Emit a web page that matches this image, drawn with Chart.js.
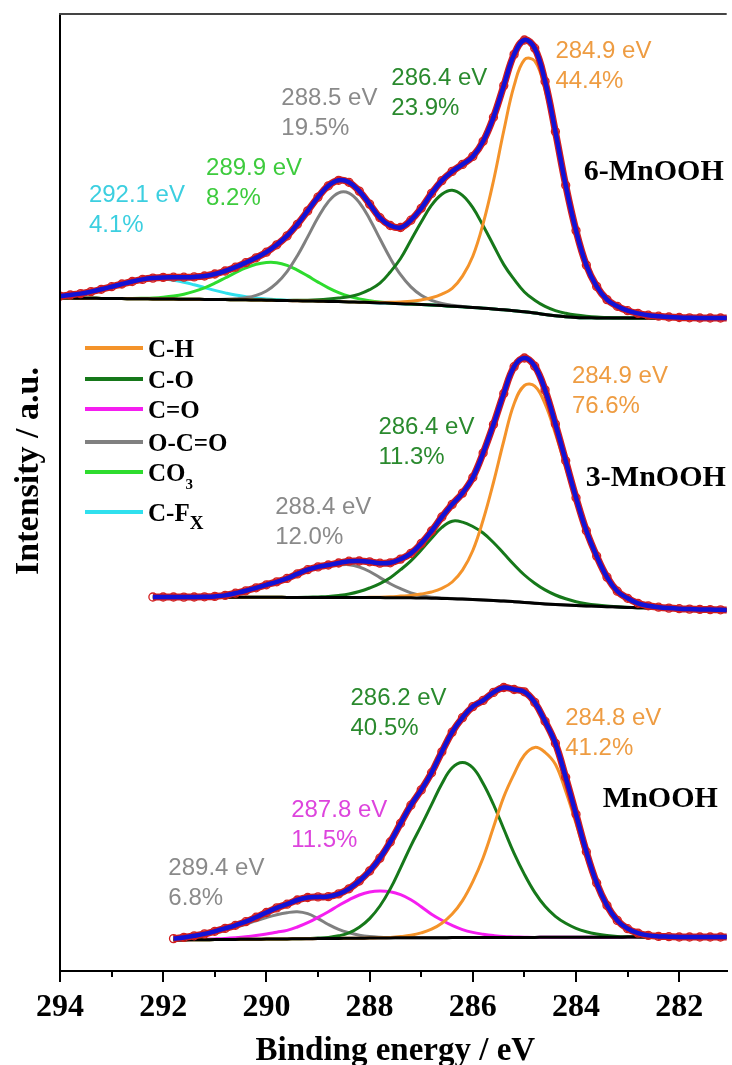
<!DOCTYPE html>
<html lang="en">
<head>
<meta charset="UTF-8">
<title>C 1s spectra</title>
<script src="https://cdn.jsdelivr.net/npm/chart.js@4.4.1/dist/chart.umd.min.js"></script>
<style>
  html, body { margin: 0; padding: 0; background: #fff; }
</style>
</head>
<body>
<canvas id="chart" width="732" height="1065"></canvas>
<script>
// binding energy grid (eV), shared by the three spectra
const energy = [
  294.0, 293.8, 293.6, 293.4, 293.2, 293.0, 292.8, 292.6, 292.4, 292.2,
  292.0, 291.8, 291.6, 291.4, 291.2, 291.0, 290.8, 290.6, 290.4, 290.2,
  290.0, 289.8, 289.6, 289.4, 289.2, 289.0, 288.8, 288.6, 288.4, 288.2,
  288.0, 287.8, 287.6, 287.4, 287.2, 287.0, 286.8, 286.6, 286.4, 286.2,
  286.0, 285.8, 285.6, 285.4, 285.2, 285.0, 284.8, 284.6, 284.4, 284.2,
  284.0, 283.8, 283.6, 283.4, 283.2, 283.0, 282.8, 282.6, 282.4, 282.2,
  282.0, 281.8, 281.6, 281.4, 281.2, 281.0
];
const xTicks = [294, 292, 290, 288, 286, 284, 282];
const xMinorTicks = [293, 291, 289, 287, 285, 283];

// 6-MnOOH : Shirley background and fitted components (a.u., above background)
const topBase = [
  0, -0.01, -0.02, -0.03, -0.04, -0.05, -0.06, -0.07, -0.08, -0.09,
  -0.1, -0.11, -0.12, -0.13, -0.14, -0.15, -0.16, -0.17, -0.18, -0.2,
  -0.22, -0.24, -0.26, -0.28, -0.3, -0.32, -0.34, -0.36, -0.39, -0.42,
  -0.45, -0.49, -0.53, -0.57, -0.61, -0.65, -0.7, -0.76, -0.82, -0.88,
  -0.95, -1.02, -1.1, -1.18, -1.27, -1.37, -1.5, -1.65, -1.78, -1.88,
  -1.94, -1.97, -1.99, -2, -2, -2, -2, -2, -2, -2,
  -2, -2, -2, -2, -2, -2
];
const topCH = [
  0, 0, 0, 0, 0, 0, 0, 0, 0, 0,
  0, 0, 0, 0, 0, 0, 0, 0, 0, 0,
  0, 0, 0, 0, 0, 0, 0, 0, 0, 0,
  0.02, 0.05, 0.1, 0.18, 0.28, 0.46, 0.72, 1.15, 1.79, 3.07,
  5.12, 8.45, 12.8, 17.9, 22.5, 25.2, 25.2, 22.5, 17.9, 12.8,
  8.45, 5.12, 3.07, 1.79, 1.15, 0.72, 0.46, 0.28, 0.18, 0.1,
  0.05, 0.02, 0, 0, 0, 0
];
const topCO = [
  0, 0, 0, 0, 0, 0, 0, 0, 0, 0,
  0, 0, 0, 0, 0, 0, 0, 0, 0, 0,
  0, 0.01, 0.02, 0.05, 0.08, 0.14, 0.23, 0.35, 0.52, 0.81,
  1.28, 1.97, 3.13, 4.52, 6.38, 8.24, 9.98, 11.14, 11.6, 11.14,
  9.98, 8.24, 6.38, 4.52, 3.13, 1.97, 1.28, 0.81, 0.52, 0.35,
  0.23, 0.14, 0.08, 0.05, 0.02, 0.01, 0, 0, 0, 0,
  0, 0, 0, 0, 0, 0
];
const topOCO = [
  0, 0, 0, 0, 0, 0, 0, 0, 0, 0,
  0, 0, 0, 0, 0, 0.01, 0.03, 0.09, 0.21, 0.46,
  0.92, 1.72, 2.9, 4.51, 6.41, 8.36, 9.97, 10.88, 10.88, 9.97,
  8.36, 6.41, 4.51, 2.9, 1.72, 0.92, 0.46, 0.21, 0.09, 0.03,
  0.01, 0, 0, 0, 0, 0, 0, 0, 0, 0,
  0, 0, 0, 0, 0, 0, 0, 0, 0, 0,
  0, 0, 0, 0, 0, 0
];
const topCO3 = [
  0, 0, 0, 0, 0, 0, 0.01, 0.02, 0.05, 0.09,
  0.17, 0.3, 0.5, 0.79, 1.16, 1.63, 2.16, 2.7, 3.19, 3.57,
  3.77, 3.77, 3.52, 3.07, 2.51, 1.91, 1.36, 0.9, 0.56, 0.33,
  0.18, 0.09, 0.04, 0.02, 0.01, 0, 0, 0, 0, 0,
  0, 0, 0, 0, 0, 0, 0, 0, 0, 0,
  0, 0, 0, 0, 0, 0, 0, 0, 0, 0,
  0, 0, 0, 0, 0, 0
];
const topCFx = [
  0.19, 0.31, 0.46, 0.67, 0.91, 1.18, 1.45, 1.7, 1.89, 1.99,
  1.99, 1.89, 1.7, 1.45, 1.18, 0.91, 0.67, 0.46, 0.31, 0.19,
  0.11, 0.06, 0.03, 0.02, 0.01, 0, 0, 0, 0, 0,
  0, 0, 0, 0, 0, 0, 0, 0, 0, 0,
  0, 0, 0, 0, 0, 0, 0, 0, 0, 0,
  0, 0, 0, 0, 0, 0, 0, 0, 0, 0,
  0, 0, 0, 0, 0, 0
];

// 3-MnOOH
const midBase = [
  null, null, null, null, null, null, null, null, null, 0,
  0, 0, -0.01, -0.01, -0.01, -0.02, -0.02, -0.02, -0.03, -0.03,
  -0.03, -0.03, -0.04, -0.04, -0.04, -0.04, -0.05, -0.05, -0.05, -0.05,
  -0.05, -0.06, -0.07, -0.07, -0.08, -0.1, -0.12, -0.14, -0.17, -0.21,
  -0.25, -0.3, -0.35, -0.4, -0.47, -0.55, -0.62, -0.69, -0.75, -0.8,
  -0.85, -0.89, -0.93, -0.97, -1, -1.04, -1.07, -1.1, -1.13, -1.16,
  -1.19, -1.21, -1.24, -1.26, -1.28, -1.3
];
const midCH = [
  null, null, null, null, null, null, null, null, null, 0,
  0, 0, 0, 0, 0, 0, 0, 0, 0, 0,
  0, 0, 0, 0, 0, 0, 0, 0, 0, 0,
  0.02, 0.04, 0.09, 0.16, 0.24, 0.4, 0.62, 1, 1.67, 2.9,
  4.9, 8, 11.8, 16, 19.8, 21.7, 21.7, 20, 17.1, 13.8,
  10.4, 7.3, 4.9, 2.9, 1.55, 0.9, 0.44, 0.22, 0.11, 0.05,
  0.02, 0, 0, 0, 0, 0
];
const midCO = [
  null, null, null, null, null, null, null, null, null, 0,
  0, 0, 0, 0, 0, 0, 0, 0, 0, 0,
  0, 0, 0, 0, 0.02, 0.05, 0.1, 0.2, 0.35, 0.6,
  0.95, 1.4, 2, 2.8, 3.7, 4.8, 6, 7.1, 7.75, 7.7,
  7.3, 6.7, 5.8, 4.75, 3.7, 2.75, 2, 1.4, 0.95, 0.62,
  0.38, 0.22, 0.12, 0.06, 0.03, 0.01, 0, 0, 0, 0,
  0, 0, 0, 0, 0, 0
];
const midOCO = [
  null, null, null, null, null, null, null, null, null, 0,
  0, 0, 0, 0.01, 0.03, 0.08, 0.18, 0.4, 0.65, 0.95,
  1.25, 1.55, 1.9, 2.35, 2.75, 3, 3.15, 3.25, 3.28, 3.05,
  2.6, 2, 1.4, 0.9, 0.5, 0.25, 0.1, 0.04, 0.01, 0,
  0, 0, 0, 0, 0, 0, 0, 0, 0, 0,
  0, 0, 0, 0, 0, 0, 0, 0, 0, 0,
  0, 0, 0, 0, 0, 0
];

// MnOOH
const botBase = [
  null, null, null, null, null, null, null, null, null, null,
  null, 0, 0.01, 0.02, 0.03, 0.04, 0.05, 0.06, 0.07, 0.08,
  0.09, 0.1, 0.11, 0.12, 0.13, 0.14, 0.15, 0.16, 0.17, 0.18,
  0.19, 0.2, 0.21, 0.22, 0.22, 0.23, 0.23, 0.23, 0.24, 0.24,
  0.24, 0.25, 0.25, 0.25, 0.26, 0.26, 0.26, 0.27, 0.27, 0.27,
  0.27, 0.28, 0.28, 0.28, 0.28, 0.29, 0.29, 0.29, 0.29, 0.3,
  0.3, 0.3, 0.3, 0.3, 0.3, 0.3
];
const botCH = [
  null, null, null, null, null, null, null, null, null, null,
  null, 0, 0, 0, 0, 0, 0, 0, 0, 0,
  0, 0, 0, 0, 0, 0, 0, 0, 0, 0,
  0, 0.02, 0.05, 0.12, 0.25, 0.48, 0.85, 1.45, 2.35, 3.7,
  5.6, 7.98, 11.02, 14.06, 16.34, 18.24, 19, 18.5, 17.3, 14.6,
  11.4, 8, 5.1, 3, 1.6, 0.8, 0.38, 0.17, 0.07, 0.03,
  0, 0, 0, 0, 0, 0
];
const botCO = [
  null, null, null, null, null, null, null, null, null, null,
  null, 0, 0, 0, 0, 0, 0, 0, 0, 0,
  0, 0, 0, 0, 0.02, 0.05, 0.11, 0.26, 0.55, 1.1,
  1.95, 3.2, 4.9, 7, 9.2, 11.2, 13.3, 15.4, 16.98, 17.5,
  16.98, 15.4, 13.3, 10.85, 8.4, 6.3, 4.5, 3.1, 2.1, 1.4,
  0.9, 0.55, 0.32, 0.17, 0.08, 0.04, 0.02, 0, 0, 0,
  0, 0, 0, 0, 0, 0
];
const botCeqO = [
  null, null, null, null, null, null, null, null, null, null,
  null, 0, 0.01, 0.02, 0.04, 0.07, 0.11, 0.17, 0.25, 0.36,
  0.5, 0.68, 0.85, 1.18, 1.6, 2.12, 2.68, 3.29, 3.85, 4.32,
  4.61, 4.7, 4.61, 4.32, 3.81, 3.1, 2.35, 1.74, 1.22, 0.8,
  0.52, 0.33, 0.19, 0.09, 0.05, 0.02, 0, 0, 0, 0,
  0, 0, 0, 0, 0, 0, 0, 0, 0, 0,
  0, 0, 0, 0, 0, 0
];
const botOCO = [
  null, null, null, null, null, null, null, null, null, null,
  null, 0.14, 0.24, 0.38, 0.54, 0.76, 1, 1.24, 1.51, 1.84,
  2.16, 2.43, 2.62, 2.7, 2.5, 2, 1.4, 0.9, 0.55, 0.3,
  0.15, 0.07, 0.03, 0.01, 0, 0, 0, 0, 0, 0,
  0, 0, 0, 0, 0, 0, 0, 0, 0, 0,
  0, 0, 0, 0, 0, 0, 0, 0, 0, 0,
  0, 0, 0, 0, 0, 0
];

const colors = {
  'C-H': '#F4932A',
  'C-O': '#16781A',
  'C=O': '#F51EF0',
  'O-C=O': '#808080',
  'CO3': '#2EDC2E',
  'C-Fx': '#30E0EE'
};
const fitColor = '#1212D6';
const dataColor = '#D21E1E';

// each spectrum is lifted by its own offset so the three stack
const panels = [
  { lift: 67.3, base: topBase, parts: [['C-H', topCH], ['C-O', topCO], ['O-C=O', topOCO], ['CO3', topCO3], ['C-Fx', topCFx]] },
  { lift: 37.4, base: midBase, parts: [['C-H', midCH], ['C-O', midCO], ['O-C=O', midOCO]] },
  { lift: 3.1, base: botBase, parts: [['C-H', botCH], ['C-O', botCO], ['C=O', botCeqO], ['O-C=O', botOCO]] }
];

function points(p, extra) {
  return energy.map((e, i) => ({
    x: e,
    y: p.base[i] === null ? null : p.lift + p.base[i] + extra(i)
  }));
}

const datasets = [];
panels.forEach(p => {
  const total = i => p.parts.reduce((s, part) => s + part[1][i], 0);
  const fit = points(p, total);
  datasets.push({ data: fit, borderColor: fitColor, borderWidth: 4.5, order: 1 });
  datasets.push({
    data: fit, borderColor: dataColor, borderWidth: 7, order: 2,
    pointRadius: 4, pointBorderWidth: 1.3, pointBorderColor: dataColor,
    pointBackgroundColor: 'rgba(0,0,0,0)'
  });
  datasets.push({ data: points(p, () => 0), borderColor: '#000', borderWidth: 3, order: 3 });
  p.parts.forEach(([name, vals]) => {
    datasets.push({ data: points(p, i => vals[i]), borderColor: colors[name], borderWidth: 3, order: 4 });
  });
});

const peakLabels = [
  { lines: ['292.1 eV', '4.1%'], color: '#3CCFE0', e: 293.44, y: 76.9 },
  { lines: ['289.9 eV', '8.2%'], color: '#3DCB3D', e: 291.17, y: 79.6 },
  { lines: ['288.5 eV', '19.5%'], color: '#8A8A8A', e: 289.71, y: 86.6 },
  { lines: ['286.4 eV', '23.9%'], color: '#2A8A2E', e: 287.58, y: 88.6 },
  { lines: ['284.9 eV', '44.4%'], color: '#EE9C42', e: 284.40, y: 91.3 },
  { lines: ['284.9 eV', '76.6%'], color: '#EE9C42', e: 284.08, y: 58.8 },
  { lines: ['286.4 eV', '11.3%'], color: '#2A8A2E', e: 287.83, y: 53.7 },
  { lines: ['288.4 eV', '12.0%'], color: '#8A8A8A', e: 289.83, y: 45.7 },
  { lines: ['286.2 eV', '40.5%'], color: '#2A8A2E', e: 288.37, y: 26.6 },
  { lines: ['284.8 eV', '41.2%'], color: '#EE9C42', e: 284.21, y: 24.6 },
  { lines: ['287.8 eV', '11.5%'], color: '#DD44DD', e: 289.52, y: 15.4 },
  { lines: ['289.4 eV', '6.8%'], color: '#8A8A8A', e: 291.90, y: 9.6 }
];
const sampleNames = [
  { text: '6-MnOOH', e: 283.85, y: 79.1 },
  { text: '3-MnOOH', e: 283.81, y: 48.5 },
  { text: 'MnOOH', e: 283.48, y: 16.4 }
];
const legendRows = [
  { key: 'C-H', text: 'C-H' },
  { key: 'C-O', text: 'C-O' },
  { key: 'C=O', text: 'C=O' },
  { key: 'O-C=O', text: 'O-C=O' },
  { key: 'CO3', text: 'CO', sub: '3', subFont: 'bold 15px "Liberation Serif"' },
  { key: 'C-Fx', text: 'C-F', sub: 'X', subFont: 'bold 19px "Liberation Serif"' }
];
const legendRowY = [334, 365, 395, 428, 458, 498];

const decorations = {
  id: 'decorations',
  afterDraw(chart) {
    const { ctx, chartArea: a, scales } = chart;
    const x = scales.x, y = scales.y;
    ctx.save();

    // frame: left axis and top edge
    ctx.strokeStyle = '#000';
    ctx.lineWidth = 2;
    ctx.beginPath();
    ctx.moveTo(a.left, a.bottom);
    ctx.lineTo(a.left, a.top);
    ctx.stroke();
    ctx.strokeStyle = '#444';
    ctx.beginPath();
    ctx.moveTo(a.left - 1, a.top);
    ctx.lineTo(a.right, a.top);
    ctx.stroke();

    // minor ticks on the energy axis
    ctx.strokeStyle = '#000';
    xMinorTicks.forEach(v => {
      const px = Math.round(x.getPixelForValue(v));
      ctx.beginPath();
      ctx.moveTo(px, a.bottom);
      ctx.lineTo(px, a.bottom + 6);
      ctx.stroke();
    });

    // axis titles
    ctx.fillStyle = '#000';
    ctx.font = 'bold 33px "Liberation Serif"';
    ctx.textAlign = 'center';
    ctx.textBaseline = 'alphabetic';
    ctx.fillText('Binding energy / eV', (a.left + a.right) / 2 + 2, 1060);
    ctx.save();
    ctx.translate(38, 471);
    ctx.rotate(-Math.PI / 2);
    ctx.font = 'bold 34px "Liberation Serif"';
    ctx.fillText('Intensity / a.u.', 0, 0);
    ctx.restore();

    // peak position / area labels
    ctx.textAlign = 'left';
    ctx.font = '24px "Liberation Sans"';
    peakLabels.forEach(l => {
      ctx.fillStyle = l.color;
      const px = x.getPixelForValue(l.e), py = y.getPixelForValue(l.y);
      l.lines.forEach((t, k) => ctx.fillText(t, px, py + k * 30));
    });

    ctx.fillStyle = '#000';
    ctx.font = 'bold 30px "Liberation Serif"';
    sampleNames.forEach(s => {
      ctx.fillText(s.text, x.getPixelForValue(s.e), y.getPixelForValue(s.y));
    });

    // component legend
    legendRows.forEach((r, k) => {
      const ly = a.top + legendRowY[k];
      ctx.strokeStyle = colors[r.key];
      ctx.lineWidth = 4;
      ctx.beginPath();
      ctx.moveTo(a.left + 25, ly);
      ctx.lineTo(a.left + 83, ly);
      ctx.stroke();
      ctx.fillStyle = '#000';
      ctx.font = 'bold 25px "Liberation Serif"';
      ctx.fillText(r.text, a.left + 88, ly + 8.5);
      if (r.sub) {
        const w = ctx.measureText(r.text).width;
        ctx.font = r.subFont;
        ctx.fillText(r.sub, a.left + 88 + w, ly + 16.5);
      }
    });
    ctx.restore();
  }
};

new Chart(document.getElementById('chart'), {
  type: 'line',
  data: { datasets },
  options: {
    responsive: false,
    animation: false,
    events: [],
    layout: { padding: { left: 60, right: 0, top: 14, bottom: 30.6 } },
    elements: {
      line: { tension: 0.4, fill: false },
      point: { radius: 0 }
    },
    scales: {
      x: {
        type: 'linear',
        reverse: true,
        min: 281.08,
        max: 294,
        afterBuildTicks: s => { s.ticks = xTicks.map(v => ({ value: v })); },
        grid: { drawOnChartArea: false, drawTicks: true, tickLength: 11, color: '#000', lineWidth: 2 },
        border: { display: true, color: '#000', width: 2 },
        ticks: {
          autoSkip: false,
          maxRotation: 0,
          padding: 7,
          color: '#000',
          font: { family: 'Liberation Serif', size: 32, weight: 'bold' },
          callback: v => String(v)
        }
      },
      y: { type: 'linear', display: false, min: 0, max: 95.7 }
    },
    plugins: {
      legend: { display: false },
      tooltip: { enabled: false }
    }
  },
  plugins: [decorations]
});
</script>
</body>
</html>
